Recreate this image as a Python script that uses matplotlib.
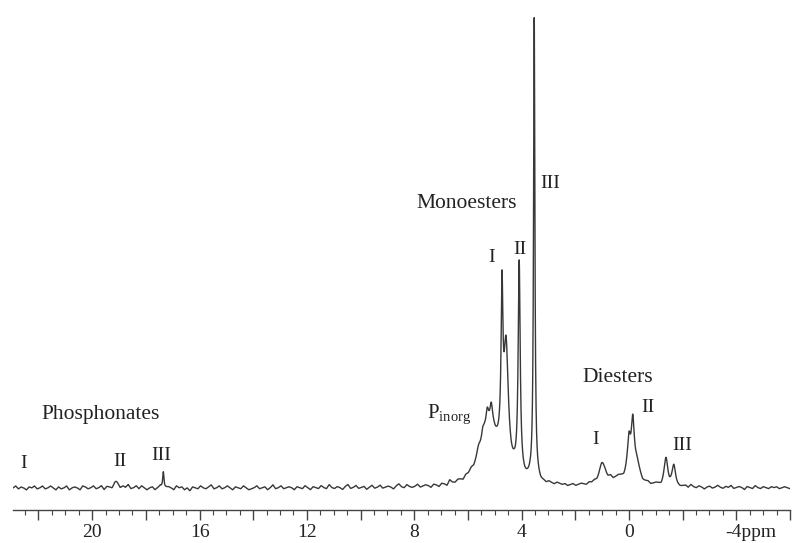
import numpy as np
import matplotlib
matplotlib.use("Agg")
import matplotlib.pyplot as plt
from matplotlib.ticker import MultipleLocator

plt.rcParams['font.family'] = ['Liberation Serif', 'DejaVu Serif']
plt.rcParams['mathtext.fontset'] = 'custom'
plt.rcParams['mathtext.rm'] = 'Liberation Serif'
plt.rcParams['axes.unicode_minus'] = False

# ---- data: peak list (ppm, height, half width) ----
peak_ppm = [19.10, 17.35,
            5.20, 5.45, 5.62, 5.28, 5.13, 4.58, 4.73, 4.09, 3.53,
            0.30, 1.00, 0.00, -0.14, -0.30, -1.38, -1.67]
peak_height = [6, 18,
               62, 10, 6, 14, 16, 120, 150, 213, 463,
               9, 20, 35, 55, 15, 27, 18]
peak_hwhm = [0.12, 0.03,
             0.42, 0.06, 0.08, 0.05, 0.05, 0.10, 0.04, 0.045, 0.03,
             0.8, 0.12, 0.07, 0.07, 0.10, 0.08, 0.07]

# baseline wiggle (ppm 23 -> -6, ~0.1 ppm apart)
baseline_noise = [0, 2, -1, 1, 0, -2, 1, 0, 2, -1,
                  0, 2, -1, 0, 2, 0, -2, 1, -1, 0,
                  2, -2, 0, 1, 0, -2, 2, 1, -1, 0,
                  2, -1, 0, 2, -2, 1, 0, -2, 1, 0,
                  -2, 1, 0, 3, -1, 0, 2, -1, 2, 0,
                  -2, 0, 1, -2, 0, 2, -2, 0, 1, 0,
                  -2, 2, 0, 1, -2, 0, -3, 1, 0, -1,
                  2, 0, -1, 1, 3, -1, 0, 2, -1, 0,
                  2, 0, -2, 1, 0, -1, 2, 0, -2, -1,
                  0, 2, -1, 0, 1, -2, 0, 3, -1, 0,
                  2, -1, 0, 1, 0, -2, 1, 0, -1, 2,
                  0, -2, 1, 0, -1, 2, 0, -1, 3, 0,
                  -1, 1, 0, -2, 1, 3, -1, 0, 2, -1,
                  0, 1, -2, 0, 2, -1, 0, 2, -1, 0,
                  1, 0, -2, 1, 3, 0, -1, 2, 0, -1,
                  0, 2, -1, 0, 1, 0, -2, 1, 0, -2,
                  1, 0, -2, 3, 0, -1, 1, 0, -2, 1,
                  0, 2, -1, 0, 2, -1, 2, 0, 1, 2,
                  0, 1, 2, 1, 0, 2, 1, 3, 1, 0,
                  1, 0, 1, 2, 0, 1, 2, 0, 1, 0,
                  2, 1, 0, 2, 1, 0, 1, -1, 0, 1,
                  -1, 0, 1, 0, -1, 1, 0, 1, -1, 0,
                  -1, 2, 0, 2, -1, 0, 1, 0, -2, 1,
                  0, -1, 2, 0, 2, -1, 0, 1, -1, 0,
                  1, 0, -2, 1, 0, -1, 2, 2, 0, -1,
                  0, 1, -1, 2, 0, -1, 1, 0, -2, 0,
                  1, -1, 0, 2, 0, -1, 1, 0, 2, -1,
                  0, 1, 0, -2, 1, 0, -1, 2, 0, -1,
                  1, 0, -1, 1, 0, 1, -1, 0, 1, 0,
                  -1]

tick_values = [20, 16, 12, 8, 4, 0, -4]
tick_labels = ['20', '16', '12', '8', '4', '0', '-4ppm']

group_labels = [('Phosphonates', 19.7, 73), ('Monoesters', 6.06, 285), ('Diesters', 0.4, 110)]
roman_labels = [('I', 22.57, 24), ('II', 18.96, 26), ('III', 17.43, 33),
                ('I', 5.13, 231), ('II', 4.05, 239), ('III', 2.94, 305),
                ('I', 1.26, 48), ('II', -0.71, 81), ('III', -2.0, 43)]

# ---- build trace ----
x = np.linspace(22.95, -6.0, 8000)
y = np.zeros_like(x)
for c, h, w in zip(peak_ppm, peak_height, peak_hwhm):
    y += h / (1.0 + ((x - c) / w) ** 2)
npos = np.linspace(22.95, -6.0, len(baseline_noise))
y += np.interp(x[::-1], npos[::-1], np.array(baseline_noise, float)[::-1])[::-1]

fig = plt.figure(figsize=(7.92, 5.43), dpi=100)
ax = fig.add_axes([13 / 792, 33 / 543, 777 / 792, 510 / 543])
ax.plot(x, y, color='#383838', lw=1.0)
ax.set_xlim(22.95, -6.0)
ax.set_ylim(-22, 488)

for s in ['top', 'left', 'right']:
    ax.spines[s].set_visible(False)
ax.spines['bottom'].set_color('#444444')
ax.spines['bottom'].set_linewidth(1.0)
ax.set_yticks([])
ax.xaxis.set_major_locator(MultipleLocator(2))
ax.xaxis.set_minor_locator(MultipleLocator(0.5))
ax.tick_params(axis='x', which='major', length=7, width=1, color='#444444')
ax.tick_params(axis='x', which='minor', length=3.5, width=0.8, color='#444444')
ax.set_xticklabels([])

for v, lab in zip(tick_values, tick_labels):
    if lab.endswith('ppm'):
        ax.annotate(lab, xy=(v, 0), xycoords=('data', 'axes fraction'),
                    xytext=(-8, -10), textcoords='offset points',
                    ha='left', va='top', fontsize=14, color='#222222')
    else:
        ax.annotate(lab, xy=(v, 0), xycoords=('data', 'axes fraction'),
                    xytext=(0, -10), textcoords='offset points',
                    ha='center', va='top', fontsize=14, color='#222222')

for t, px, py in group_labels:
    ax.text(px, py, t, ha='center', va='center', fontsize=15.5, color='#222222')
for t, px, py in roman_labels:
    ax.text(px, py, t, ha='center', va='center', fontsize=14, color='#222222')
ax.text(7.51, 70, r'P$_{\mathrm{inorg}}$', ha='left', va='baseline', fontsize=15, color='#222222')

fig.savefig('out.png', dpi=100)
